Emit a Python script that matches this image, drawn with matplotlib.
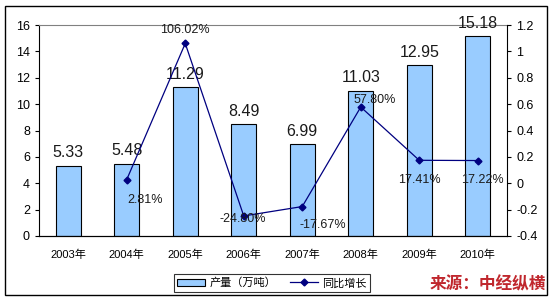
import matplotlib
matplotlib.use('Agg')
import matplotlib.pyplot as plt
from matplotlib.patches import Rectangle

plt.rcParams['font.family'] = ['Liberation Sans', 'Noto Sans CJK SC', 'DejaVu Sans']

# data
years = ['2003年', '2004年', '2005年', '2006年', '2007年', '2008年', '2009年', '2010年']
output = [5.33, 5.48, 11.29, 8.49, 6.99, 11.03, 12.95, 15.18]
growth = [None, 0.0281, 1.0602, -0.2480, -0.1767, 0.5780, 0.1741, 0.1722]
growth_labels = ['', '2.81%', '106.02%', '-24.80%', '-17.67%', '57.80%', '17.41%', '17.22%']

fig = plt.figure(figsize=(5.52, 3.0), dpi=100)
ax = fig.add_axes([39/552, 1-236/300, (507-39)/552, (236-25)/300])
x = list(range(len(years)))

# bars
ax.bar(x, output, width=0.43, color='#99CCFF', edgecolor='black', linewidth=0.8, label='产量（万吨）')
for i, v in enumerate(output):
    ax.text(i, v + 0.4, f'{v:.2f}', ha='center', va='bottom', fontsize=11.5, color='#1a1a1a')
ax.set_ylim(0, 16)
ax.set_xlim(-0.5, len(years) - 0.5)
ax.set_yticks(range(0, 17, 2))
ax.set_xticks(x)
ax.set_xticklabels(years, fontsize=8)
ax.tick_params(axis='y', labelsize=9, length=3, direction='out')
ax.tick_params(axis='x', length=0, pad=10)
ax.spines['top'].set_color('#808080')
ax.spines['right'].set_visible(False)

# growth line
ax2 = ax.twinx()
xs = [i for i, g in enumerate(growth) if g is not None]
gs = [g for g in growth if g is not None]
line, = ax2.plot(xs, gs, color='#000080', linewidth=0.9, marker='D', markersize=3.5, label='同比增长')
ax2.set_ylim(-0.4, 1.2)
ax2.set_yticks([-0.4, -0.2, 0, 0.2, 0.4, 0.6, 0.8, 1, 1.2])
ax2.set_yticklabels(['-0.4', '-0.2', '0', '0.2', '0.4', '0.6', '0.8', '1', '1.2'])
ax2.tick_params(axis='y', labelsize=9, length=3, direction='out')
ax2.spines['top'].set_visible(False)
ax2.spines['left'].set_visible(False)

# percent labels, offsets in points
offsets = {1: (13, -15), 2: (0, 10), 3: (-1, -2), 4: (15, -13), 5: (10, 5), 6: (0, -14), 7: (3, -14)}
for i, g in enumerate(growth):
    if g is None:
        continue
    dx, dy = offsets[i]
    ax2.annotate(growth_labels[i], (i, g), xytext=(dx, dy), textcoords='offset points',
                 ha='center', va='center', fontsize=9, color='#1a1a1a')

# legend
h1, l1 = ax.get_legend_handles_labels()
h2, l2 = ax2.get_legend_handles_labels()
leg = fig.legend(h1 + h2, l1 + l2, loc='center', bbox_to_anchor=(272/552, 1-283/300),
                 ncol=2, fontsize=8, frameon=True, fancybox=False, edgecolor='black',
                 handlelength=2.5, columnspacing=1.2, borderpad=0.3, handletextpad=0.4)
leg.get_frame().set_linewidth(0.8)

# source note
fig.text(546/552, 1-284/300, '来源：中经纵横', ha='right', va='center', fontsize=12,
         color='#C0272D', fontweight='bold', style='italic')

# outer border
fig.patches.append(Rectangle((5/552, 1-295/300), 542/552, 289/300, transform=fig.transFigure,
                             fill=False, edgecolor='black', linewidth=1))

fig.savefig('out.png', dpi=100)
